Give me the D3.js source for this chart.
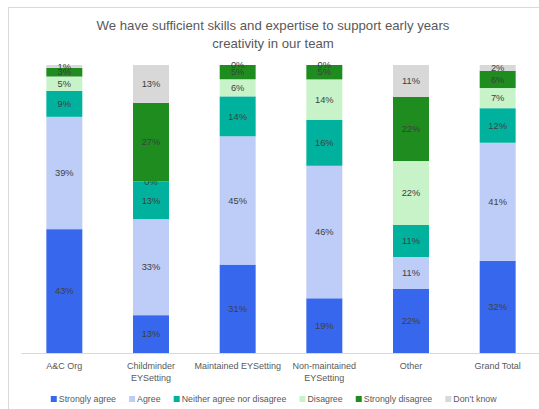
<!DOCTYPE html>
<html>
<head>
<meta charset="utf-8">
<script src="https://cdn.jsdelivr.net/npm/d3@7"></script>
<style>
  body { margin: 0; background: #fff; }
  text { font-family: "Liberation Sans", Arial, sans-serif; }
</style>
</head>
<body>
<div id="chart"></div>
<script>
// datos
const categorias = ["A&C Org", "Childminder\nEYSetting", "Maintained EYSetting", "Non-maintained\nEYSetting", "Other", "Grand Total"]
const series = ["Strongly agree", "Agree", "Neither agree nor disagree", "Disagree", "Strongly disagree", "Don't know"]
const stronglyAgree = [43, 13, 31, 19, 22, 32]
const agree         = [39, 33, 45, 46, 11, 41]
const neither       = [9, 13, 14, 16, 11, 12]
const disagree      = [5, 0, 6, 14, 22, 7]
const stronglyDis   = [3, 27, 5, 5, 22, 6]
const dontKnow      = [1, 13, 0, 0, 11, 2]
const titulo = ["We have sufficient  skills and expertise to support  early years", "creativity in our team"]

const colores = ["#3767ec", "#bdcdf8", "#00b29e", "#c8f3c9", "#1e8c1e", "#d8d8d8"]

const ancho = 539
const alto = 409
const margen = { superior: 65, inferior: 56, izquierdo: 21, derecho: -2 }

const svg = d3.select("#chart").append("svg").attr("width", ancho).attr("height", alto)

// borde del area del grafico
svg.append("rect").attr("x", 8.5).attr("y", 7.5).attr("width", 560).attr("height", 430)
  .attr("fill", "none").attr("stroke", "#d9d9d9")

// titulo
svg.append("text").attr("text-anchor", "middle").attr("fill", "#595959").attr("font-size", 13.2)
  .selectAll("tspan").data(titulo).enter().append("tspan")
  .attr("x", 273).attr("y", (d, i) => 30 + i * 18).text(d => d)

// tabla para el stack
const datos = categorias.map((c, i) => ({
  cat: c,
  "Strongly agree": stronglyAgree[i],
  "Agree": agree[i],
  "Neither agree nor disagree": neither[i],
  "Disagree": disagree[i],
  "Strongly disagree": stronglyDis[i],
  "Don't know": dontKnow[i]
}))
const pila = d3.stack().keys(series).offset(d3.stackOffsetExpand)(datos)

const x = d3.scaleBand().domain(categorias)
  .range([margen.izquierdo, ancho - margen.derecho])
  .paddingInner(0.585).paddingOuter(0.2925)
const y = d3.scaleLinear().domain([0, 1]).range([alto - margen.inferior, margen.superior])
const color = d3.scaleOrdinal().domain(series).range(colores)

const grupos = svg.append("g").selectAll("g").data(pila).enter().append("g")
  .attr("fill", d => color(d.key))

grupos.selectAll("rect").data(d => d).enter().append("rect")
  .attr("x", d => x(d.data.cat))
  .attr("y", d => y(d[1]))
  .attr("width", x.bandwidth())
  .attr("height", d => y(d[0]) - y(d[1]))

// etiquetas de porcentaje
grupos.selectAll("text").data(d => d.map(v => Object.assign(v, { key: d.key }))).enter().append("text")
  .attr("x", d => x(d.data.cat) + x.bandwidth() / 2)
  .attr("y", d => (y(d[0]) + y(d[1])) / 2)
  .attr("dy", "0.35em")
  .attr("text-anchor", "middle")
  .attr("font-size", 9.3)
  .attr("fill", "#404040")
  .text(d => d.data[d.key] + "%")

// eje x
const grupoX = svg.append("g").attr("transform", `translate(0, ${alto - margen.inferior})`)
grupoX.call(d3.axisBottom(x).tickSize(0).tickFormat(""))
grupoX.select(".domain").attr("stroke", "#d9d9d9")
grupoX.selectAll(".tick").each(function(d) {
  const t = d3.select(this).append("text").attr("fill", "#595959").attr("font-size", 9)
    .attr("text-anchor", "middle")
  d.split("\n").forEach((linea, i) => {
    t.append("tspan").attr("x", 0).attr("y", 16 + i * 12).text(linea)
  })
})

// leyenda
const leyenda = svg.append("g").attr("transform", "translate(0, 399)")
const items = leyenda.selectAll("g").data(series).enter().append("g")
items.append("rect").attr("width", 6).attr("height", 6).attr("y", -3).attr("fill", d => color(d))
items.append("text").attr("x", 8).attr("dy", "0.35em").attr("font-size", 8.8).attr("fill", "#595959").text(d => d)
let pos = 0
items.each(function() {
  const w = this.getBBox().width
  d3.select(this).attr("transform", `translate(${pos}, 0)`)
  pos += w + 13
})
pos -= 13
items.attr("transform", function() {
  const t = d3.select(this).attr("transform")
  const px = +t.match(/translate\(([-\d.]+)/)[1]
  return `translate(${px + 274 - pos / 2}, 0)`
})
</script>
</body>
</html>
